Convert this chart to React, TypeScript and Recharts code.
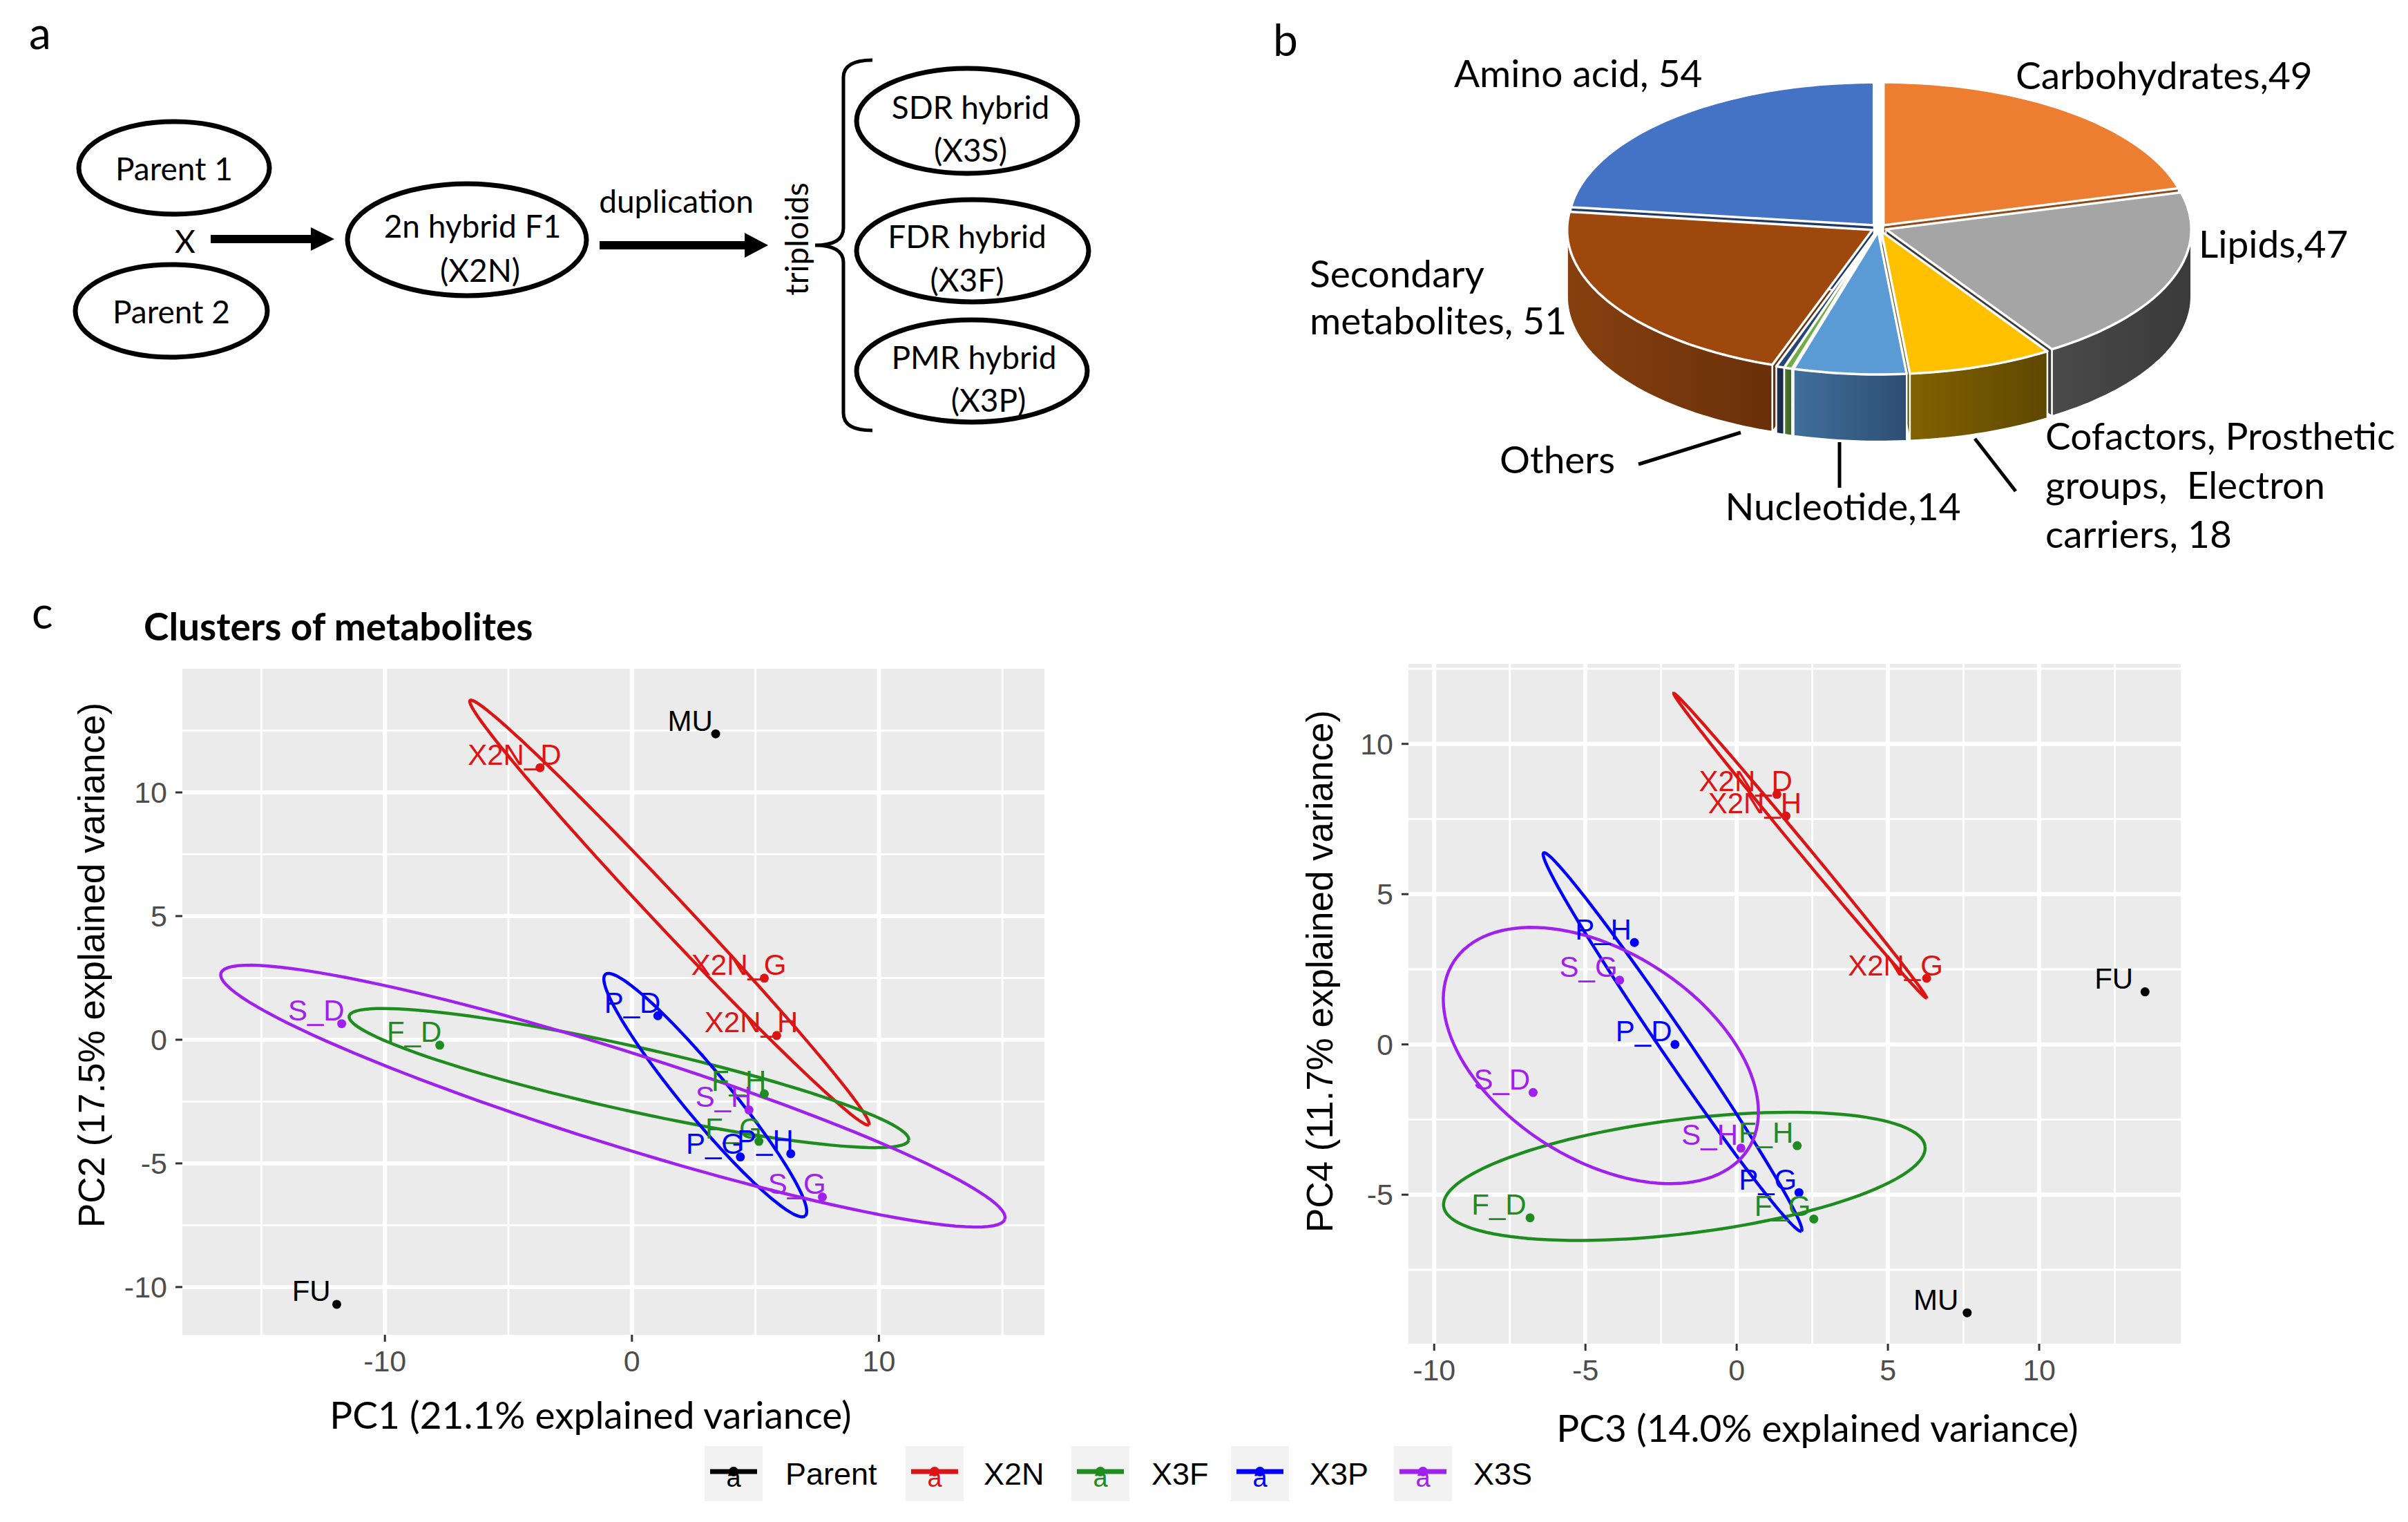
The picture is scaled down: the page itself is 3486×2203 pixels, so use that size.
import React from 'react';
import { PieChart, Pie, ScatterChart, Scatter, XAxis, YAxis, CartesianGrid } from 'recharts';

// ---------- panel b data ----------
const PIE_NAMES = ['Carbohydrates', 'Lipids', 'Cofactors, Prosthetic groups, Electron carriers', 'Nucleotide', 'Others', 'Others', 'Secondary metabolites', 'Amino acid'];
const PIE_VALUES = [49, 47, 18, 14, 1, 1, 51, 54];
const PIE_LABEL_TEXT = [['Carbohydrates,49'], ['Lipids,47'], ['Cofactors, Prosthetic', 'groups,  Electron', 'carriers, 18'], ['Nucleotide,14'], ['Others'], [], ['Secondary', 'metabolites, 51'], ['Amino acid, 54']];

// ---------- panel c data ----------
const SAMPLES = ['MU', 'FU', 'X2N_D', 'X2N_G', 'X2N_H', 'F_D', 'F_G', 'F_H', 'P_D', 'P_G', 'P_H', 'S_D', 'S_G', 'S_H'];
const SAMPLE_GROUPS = ['Parent', 'Parent', 'X2N', 'X2N', 'X2N', 'X3F', 'X3F', 'X3F', 'X3P', 'X3P', 'X3P', 'X3S', 'X3S', 'X3S'];
const PC1 = [3.39, -11.95, -3.72, 5.36, 5.86, -7.78, 5.14, 5.36, 1.05, 4.39, 6.43, -11.75, 7.71, 4.74];
const PC2 = [12.37, -10.7, 11.0, 2.49, 0.17, -0.22, -4.11, -2.19, 0.97, -4.74, -4.61, 0.65, -6.36, -2.84];
const PC3 = [7.62, 13.5, 1.33, 6.28, 1.63, -6.83, 2.55, 2.0, -2.04, 2.06, -3.38, -6.73, -3.87, 0.14];
const PC4 = [-8.93, 1.75, 8.32, 2.2, 7.6, -5.77, -5.81, -3.37, 0.0, -4.93, 3.39, -1.6, 2.14, -3.45];

const GROUPS = ['Parent', 'X2N', 'X3F', 'X3P', 'X3S'];
const ELLIPSE_GROUPS = ['X2N', 'X3F', 'X3P', 'X3S'];
// ellipse centre, semi axes and tilt (degrees)
const PC12_ELL_CX = [1.52, -0.12, 2.97, -0.77];
const PC12_ELL_CY = [5.14, -1.55, -2.24, -2.28];
const PC12_ELL_A = [11.78, 11.6, 6.34, 16.63];
const PC12_ELL_B = [0.65, 1.3, 0.95, 1.9];
const PC12_ELL_ANGLE = [-46.75, -12.5, -50.4, -17.4];
const PC34_ELL_CX = [2.1, -1.73, -2.12, -4.49];
const PC34_ELL_CY = [6.61, -4.39, 0.08, -0.37];
const PC34_ELL_A = [6.57, 8.02, 7.6, 5.78];
const PC34_ELL_B = [0.17, 1.9, 0.45, 3.45];
const PC34_ELL_ANGLE = [-50.5, 7.14, -55.9, -32.7];

const PC1_TICKS = [-10, 0, 10];
const PC1_MINOR = [-15, -5, 5, 15];
const PC2_TICKS = [-10, -5, 0, 5, 10];
const PC2_MINOR = [-7.5, -2.5, 2.5, 7.5, 12.5];
const PC3_TICKS = [-10, -5, 0, 5, 10];
const PC3_MINOR = [-7.5, -2.5, 2.5, 7.5, 12.5];
const PC4_TICKS = [-5, 0, 5, 10];
const PC4_MINOR = [-7.5, -2.5, 2.5, 7.5, 12.5];

// ---------- styles ----------
const CAL = 'Lato, "Open Sans", sans-serif';
const ARI = '"Liberation Sans", Arial, Helvetica, sans-serif';
const GROUP_COLORS: Record<string, string> = { Parent: '#000000', X2N: '#DC1414', X3F: '#1E8C1E', X3P: '#0000FF', X3S: '#A020F0' };
const PIE_TOP = ['#ED7D31', '#A5A5A5', '#FFC000', '#5B9BD5', '#70AD47', '#264478', '#9E480E', '#4472C4'];
const PIE_WALL_A = ['#B55F25', '#4A4A4A', '#826200', '#3F6F9B', '#4E7A32', '#1B3157', '#86400F', '#2F5597'];
const PIE_WALL_B = ['#8C4A1C', '#3A3A3A', '#5E4700', '#2E4E72', '#3D6027', '#142543', '#6A300A', '#1F3864'];
const PIE_LABEL_LAYOUT = [
  { dx: 198, dy: [-201], anchor: 'start' },
  { dx: 463, dy: [43], anchor: 'start' },
  { dx: 241, dy: [321, 392, 463], anchor: 'start', leader: [139, 305, 198, 381] },
  { dx: -52, dy: [423], anchor: 'middle', leader: [-57, 310, -57, 376] },
  { dx: -549, dy: [355], anchor: 'start', leader: [-348, 342, -200, 296] },
  { dx: 0, dy: [], anchor: 'start' },
  { dx: -824, dy: [86, 154], anchor: 'start' },
  { dx: -615, dy: [-204], anchor: 'start' },
];
const LABEL_NUDGE = 1.03;
const TILT = 0.468;
const DEPTH = 97;
const EXPLODE = 11;

const rad = (d: number) => (d * Math.PI) / 180;
const ellPt = (cx: number, cy: number, r: number, deg: number): number[] => [cx + r * Math.cos(rad(deg)), cy - r * TILT * Math.sin(rad(deg))];
function arcPts(cx: number, cy: number, r: number, a0: number, a1: number) {
  const n = Math.max(2, Math.ceil(Math.abs(a1 - a0) / 1.5));
  const pts: number[][] = [];
  for (let k = 0; k <= n; k++) pts.push(ellPt(cx, cy, r, a0 + ((a1 - a0) * k) / n));
  return pts;
}
const toPath = (pts: number[][]) => 'M' + pts.map((p) => p[0].toFixed(1) + ',' + p[1].toFixed(1)).join('L') + 'Z';

function sliceOrigin(p: any) {
  const m = rad(p.midAngle);
  return [p.cx + EXPLODE * Math.cos(m), p.cy - EXPLODE * TILT * Math.sin(m)];
}

function renderRadialWalls(p: any) {
  const [ox, oy] = sliceOrigin(p);
  const r = p.outerRadius;
  const i = p.index;
  const faces: number[] = [];
  if (Math.cos(rad(p.startAngle)) < -0.02) faces.push(p.startAngle);
  if (Math.cos(rad(p.endAngle)) > 0.02) faces.push(p.endAngle);
  return (
    <g key={'rw' + i}>
      {faces.map((a, k) => {
        const q = ellPt(ox, oy, r, a);
        return <path key={k} d={toPath([[ox, oy], q, [q[0], q[1] + DEPTH], [ox, oy + DEPTH]])} fill={PIE_WALL_B[i]} stroke="#fff" strokeWidth={2} />;
      })}
    </g>
  );
}

function renderOuterWall(p: any) {
  const [ox, oy] = sliceOrigin(p);
  const i = p.index;
  const lo = Math.max(Math.min(p.startAngle, p.endAngle), -180);
  const hi = Math.min(Math.max(p.startAngle, p.endAngle), 0);
  if (hi <= lo) return <g key={'ow' + i} />;
  const arc = arcPts(ox, oy, p.outerRadius, hi, lo);
  const bottom = arc.slice().reverse().map((q) => [q[0], q[1] + DEPTH]);
  return (
    <g key={'ow' + i}>
      <path d={toPath([...arc, ...bottom])} fill={`url(#pieWall${i})`} stroke="#fff" strokeWidth={2.5} />
    </g>
  );
}

function renderTopFace(p: any) {
  const [ox, oy] = sliceOrigin(p);
  const i = p.index;
  const arc = arcPts(ox, oy, p.outerRadius, p.startAngle, p.endAngle);
  const lay = PIE_LABEL_LAYOUT[i];
  return (
    <g key={'tf' + i}>
      <path d={toPath([[ox, oy], ...arc])} fill={PIE_TOP[i]} stroke="#fff" strokeWidth={3.5} strokeLinejoin="round" />
      {lay.leader && (
        <line x1={p.cx + lay.leader[0]} y1={p.cy + lay.leader[1]} x2={p.cx + lay.leader[2]} y2={p.cy + lay.leader[3]} stroke="#000" strokeWidth={5} />
      )}
      {PIE_LABEL_TEXT[i].map((t, k) => (
        <text key={k} x={p.cx + lay.dx} y={p.cy + lay.dy[k]} textAnchor={lay.anchor as any} fontFamily={CAL} fontSize={55} fill="#000" style={{ whiteSpace: 'pre' }}>
          {t}
        </text>
      ))}
    </g>
  );
}

function ellipseOutline(cx: number, cy: number, a: number, b: number, angleDeg: number) {
  const phi = rad(angleDeg);
  const pts: { x: number; y: number }[] = [];
  for (let k = 0; k <= 120; k++) {
    const t = (2 * Math.PI * k) / 120;
    pts.push({
      x: cx + a * Math.cos(t) * Math.cos(phi) - b * Math.sin(t) * Math.sin(phi),
      y: cy + a * Math.cos(t) * Math.sin(phi) + b * Math.sin(t) * Math.cos(phi),
    });
  }
  return pts;
}

const noShape = () => <g />;
const dotShape = (color: string) => (p: any) => <circle cx={p.cx} cy={p.cy} r={6.5} fill={color} />;
const labelShape = (color: string) => (p: any) => (
  <text x={p.cx} y={p.cy - 4.5} textAnchor="middle" fill={color} fontSize={42} fontFamily={ARI}>
    {p.payload.label}
  </text>
);

interface PanelProps {
  xs: number[];
  ys: number[];
  ecx: number[];
  ecy: number[];
  ea: number[];
  eb: number[];
  eang: number[];
  xDomain: number[];
  yDomain: number[];
  xTicks: number[];
  yTicks: number[];
  xMinor: number[];
  yMinor: number[];
  width: number;
  height: number;
  margin: { top: number; right: number; bottom: number; left: number };
}

function PcaPanel(props: PanelProps) {
  const pts = SAMPLES.map((s, i) => ({ x: props.xs[i], y: props.ys[i], label: s, group: SAMPLE_GROUPS[i] }));
  const tickStyle = { fill: '#4D4D4D', fontSize: 43, fontFamily: ARI };
  return (
    <ScatterChart width={props.width} height={props.height} margin={props.margin}>
      <CartesianGrid fill="#EBEBEB" fillOpacity={1} stroke="#FFFFFF" strokeWidth={3} verticalValues={props.xMinor} horizontalValues={props.yMinor} />
      <CartesianGrid stroke="#FFFFFF" strokeWidth={6} verticalValues={props.xTicks} horizontalValues={props.yTicks} />
      <XAxis type="number" dataKey="x" domain={props.xDomain} ticks={props.xTicks} allowDataOverflow height={100} axisLine={false} tickLine={{ stroke: '#333333', strokeWidth: 3 }} tickSize={10} tickMargin={12} tick={tickStyle} interval={0} />
      <YAxis type="number" dataKey="y" domain={props.yDomain} ticks={props.yTicks} allowDataOverflow width={120} axisLine={false} tickLine={{ stroke: '#333333', strokeWidth: 3 }} tickSize={10} tickMargin={12} tick={tickStyle} interval={0} />
      {ELLIPSE_GROUPS.map((g, i) => (
        <Scatter
          key={'ell' + g}
          name={g + ' ellipse'}
          data={ellipseOutline(props.ecx[i], props.ecy[i], props.ea[i], props.eb[i], props.eang[i])}
          fill={GROUP_COLORS[g]}
          line={{ stroke: GROUP_COLORS[g], strokeWidth: 4.5 }}
          lineType="joint"
          shape={noShape}
          legendType="none"
          isAnimationActive={false}
        />
      ))}
      {GROUPS.map((g) => (
        <Scatter key={'pt' + g} name={g} data={pts.filter((p) => p.group === g)} fill={GROUP_COLORS[g]} shape={dotShape(GROUP_COLORS[g])} isAnimationActive={false} />
      ))}
      {GROUPS.map((g) => (
        <Scatter
          key={'lb' + g}
          name={g + ' labels'}
          data={pts.filter((p) => p.group === g).map((p) => ({ ...p, x: p.x - LABEL_NUDGE }))}
          fill={GROUP_COLORS[g]}
          shape={labelShape(GROUP_COLORS[g])}
          legendType="none"
          isAnimationActive={false}
        />
      ))}
    </ScatterChart>
  );
}

const LEGEND_BOX_X = [1020, 1311, 1551, 1782, 2018];
const LEGEND_TEXT_X = [1137, 1424, 1667, 1896, 2133];

function Ell({ cx, cy, rx, ry }: { cx: number; cy: number; rx: number; ry: number }) {
  return <ellipse cx={cx} cy={cy} rx={rx} ry={ry} fill="#fff" stroke="#000" strokeWidth={7} />;
}

function T({ x, y, s = 46, children, ...rest }: any) {
  return (
    <text x={x} y={y} fontSize={s} fontFamily={CAL} fill="#000" textAnchor="middle" dominantBaseline="central" {...rest}>
      {children}
    </text>
  );
}

export default function App() {
  const pieData = PIE_NAMES.map((n, i) => ({ name: n, value: PIE_VALUES[i] }));
  const pieCommon = {
    data: pieData,
    dataKey: 'value',
    nameKey: 'name',
    cx: 865,
    cy: 325,
    outerRadius: 442,
    startAngle: 90,
    endAngle: -270,
    fill: 'transparent',
    stroke: 'none',
    labelLine: false,
    isAnimationActive: false,
  };
  return (
    <div style={{ position: 'absolute', left: 0, top: 0, width: 3486, height: 2203, background: '#fff', overflow: 'hidden' }}>
      <svg width={0} height={0} style={{ position: 'absolute' }}>
        <defs>
          {PIE_TOP.map((c, i) => (
            <linearGradient key={i} id={'pieWall' + i} x1="0" y1="0" x2="1" y2="0">
              <stop offset="0%" stopColor={PIE_WALL_A[i]} />
              <stop offset="100%" stopColor={PIE_WALL_B[i]} />
            </linearGradient>
          ))}
        </defs>
      </svg>

      <div style={{ position: 'absolute', left: 1850, top: 0 }}>
        <PieChart width={1636} height={840}>
          <Pie {...(pieCommon as any)} label={renderRadialWalls} />
          <Pie {...(pieCommon as any)} label={renderOuterWall} />
          <Pie {...(pieCommon as any)} label={renderTopFace} />
        </PieChart>
      </div>

      <div style={{ position: 'absolute', left: 0, top: 850 }}>
        <PcaPanel
          xs={PC1}
          ys={PC2}
          ecx={PC12_ELL_CX}
          ecy={PC12_ELL_CY}
          ea={PC12_ELL_A}
          eb={PC12_ELL_B}
          eang={PC12_ELL_ANGLE}
          xDomain={[-18.2, 16.7]}
          yDomain={[-11.93, 15.0]}
          xTicks={PC1_TICKS}
          yTicks={PC2_TICKS}
          xMinor={PC1_MINOR}
          yMinor={PC2_MINOR}
          width={1600}
          height={1250}
          margin={{ top: 118, right: 88, bottom: 68, left: 144 }}
        />
      </div>

      <div style={{ position: 'absolute', left: 1850, top: 850 }}>
        <PcaPanel
          xs={PC3}
          ys={PC4}
          ecx={PC34_ELL_CX}
          ecy={PC34_ELL_CY}
          ea={PC34_ELL_A}
          eb={PC34_ELL_B}
          eang={PC34_ELL_ANGLE}
          xDomain={[-10.85, 14.68]}
          yDomain={[-9.96, 12.66]}
          xTicks={PC3_TICKS}
          yTicks={PC4_TICKS}
          xMinor={PC3_MINOR}
          yMinor={PC4_MINOR}
          width={1400}
          height={1250}
          margin={{ top: 111, right: 93, bottom: 55, left: 69 }}
        />
      </div>

      <svg width={3486} height={2203} style={{ position: 'absolute', left: 0, top: 0, pointerEvents: 'none' }}>
        {/* panel letters */}
        <text x={42} y={71} fontSize={64} fontFamily={CAL}>a</text>
        <text x={1843} y={81} fontSize={64} fontFamily={CAL}>b</text>
        <text x={46} y={910} fontSize={64} fontFamily={CAL}>c</text>

        {/* panel a: crossing scheme */}
        <Ell cx={252} cy={243} rx={138} ry={67} />
        <Ell cx={248} cy={450} rx={139} ry={67} />
        <T x={252} y={243}>Parent 1</T>
        <T x={248} y={450}>Parent 2</T>
        <T x={268} y={348}>X</T>
        <rect x={305} y={340} width={150} height={12} fill="#000" />
        <polygon points="450,329 484,346 450,363" fill="#000" />
        <Ell cx={676} cy={347} rx={173} ry={81} />
        <T x={684} y={326}>2n hybrid F1</T>
        <T x={695} y={390}>(X2N)</T>
        <T x={979} y={290}>duplication</T>
        <rect x={868} y={349} width={214} height={12} fill="#000" />
        <polygon points="1078,337 1112,355 1078,373" fill="#000" />
        <T x={1152} y={346} transform="rotate(-90 1152 346)">triploids</T>
        <path d="M1263,87 Q1221,87 1221,112 L1221,330 Q1221,355 1180,355 Q1221,355 1221,380 L1221,598 Q1221,623 1263,623" fill="none" stroke="#000" strokeWidth={5} />
        <Ell cx={1400} cy={175} rx={160} ry={76} />
        <Ell cx={1408} cy={363} rx={168} ry={74} />
        <Ell cx={1407} cy={537} rx={167} ry={74} />
        <T x={1405} y={154}>SDR hybrid</T>
        <T x={1405} y={216}>(X3S)</T>
        <T x={1400} y={341}>FDR hybrid</T>
        <T x={1400} y={404}>(X3F)</T>
        <T x={1410} y={516}>PMR hybrid</T>
        <T x={1431} y={578}>(X3P)</T>

        {/* panel c titles */}
        <text x={208} y={927} fontSize={55} fontWeight="bold" fontFamily={CAL}>Clusters of metabolites</text>
        <T x={855} y={2047} s={55}>PC1 (21.1% explained variance)</T>
        <T x={2631} y={2066} s={55}>PC3 (14.0% explained variance)</T>
        <text x={132} y={1397} fontSize={53} fontFamily={ARI} textAnchor="middle" dominantBaseline="central" transform="rotate(-90 132 1397)">
          PC2 (17.5% explained variance)
        </text>
        <text x={1910} y={1406} fontSize={53} fontFamily={ARI} textAnchor="middle" dominantBaseline="central" transform="rotate(-90 1910 1406)">
          PC4 (11.7% explained variance)
        </text>

        {/* legend */}
        {GROUPS.map((g, i) => {
          const bx = LEGEND_BOX_X[i];
          const c = GROUP_COLORS[g];
          return (
            <g key={g}>
              <rect x={bx} y={2093} width={84} height={80} fill="#F2F2F2" />
              <line x1={bx + 8} x2={bx + 76} y1={2130} y2={2130} stroke={c} strokeWidth={7} />
              <circle cx={bx + 42} cy={2130} r={7} fill={c} />
              <text x={bx + 42} y={2152} fontSize={38} fontFamily={ARI} fill={c} textAnchor="middle">a</text>
              <text x={LEGEND_TEXT_X[i]} y={2133} fontSize={45} fontFamily={ARI} fill="#000" dominantBaseline="central">{g}</text>
            </g>
          );
        })}
      </svg>
    </div>
  );
}
